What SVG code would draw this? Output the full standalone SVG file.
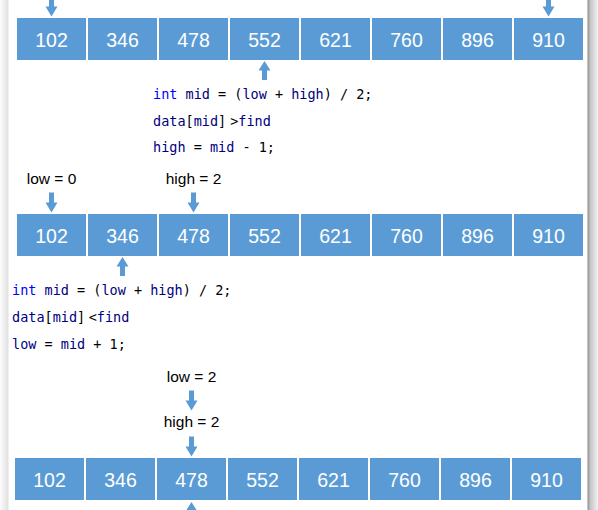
<svg xmlns="http://www.w3.org/2000/svg" width="598" height="510" viewBox="0 0 598 510">
<defs>
<style>
.box{fill:#5B9BD5}
.num{font-family:"Liberation Sans",Arial,sans-serif;font-size:19.5px;fill:#ffffff;text-anchor:middle}
.lbl{font-family:"Liberation Sans",Arial,sans-serif;font-size:15.5px;fill:#000000;text-anchor:middle}
.code{font-family:"DejaVu Sans Mono","Liberation Mono",monospace;font-size:13.5px;fill:#000000}
.kw{fill:#0000FF}
.id{fill:#000080}
.arr{fill:#5B9BD5}
</style>
<linearGradient id="lshade" x1="0" y1="0" x2="1" y2="0">
<stop offset="0" stop-color="#fcfcfc"/>
<stop offset="1" stop-color="#e0e0e0"/>
</linearGradient>
<linearGradient id="rshade" x1="0" y1="0" x2="1" y2="0">
<stop offset="0" stop-color="#8a8a8a"/>
<stop offset="0.25" stop-color="#c4c4c4"/>
<stop offset="1" stop-color="#f2f2f2"/>
</linearGradient>
<path id="down" d="M-2.5,-20 L2.5,-20 L2.5,-10 L6,-10 L0,0 L-6,-10 L-2.5,-10 Z"/>
<path id="up" d="M-2.5,19 L2.5,19 L2.5,9.5 L6,9.5 L0,0 L-6,9.5 L-2.5,9.5 Z"/>
</defs>
<rect x="0" y="0" width="598" height="510" fill="#ffffff"/>
<rect x="0" y="0" width="8.5" height="510" fill="url(#lshade)"/>
<rect x="587.5" y="0" width="10.5" height="510" fill="url(#rshade)"/>

<g id="row1">
<g id="r1-0"><rect class="box" x="17" y="18" width="69" height="42"/><text class="num" x="51.5" y="46.5">102</text></g>
<g id="r1-1"><rect class="box" x="88" y="18" width="69" height="42"/><text class="num" x="122.5" y="46.5">346</text></g>
<g id="r1-2"><rect class="box" x="159" y="18" width="69" height="42"/><text class="num" x="193.5" y="46.5">478</text></g>
<g id="r1-3"><rect class="box" x="230" y="18" width="69" height="42"/><text class="num" x="264.5" y="46.5">552</text></g>
<g id="r1-4"><rect class="box" x="301" y="18" width="69" height="42"/><text class="num" x="335.5" y="46.5">621</text></g>
<g id="r1-5"><rect class="box" x="372" y="18" width="69" height="42"/><text class="num" x="406.5" y="46.5">760</text></g>
<g id="r1-6"><rect class="box" x="443" y="18" width="69" height="42"/><text class="num" x="477.5" y="46.5">896</text></g>
<g id="r1-7"><rect class="box" x="514" y="18" width="69" height="42"/><text class="num" x="548.5" y="46.5">910</text></g>
</g>

<g id="code1" class="code">
<text x="153" y="99"><tspan class="kw">int</tspan> <tspan class="id">mid</tspan> = (<tspan class="id">low</tspan> + <tspan class="id">high</tspan>) / 2;</text>
<text x="153" y="125.7"><tspan class="id">data</tspan>[<tspan class="id">mid</tspan>]<tspan dx="4">&gt;</tspan><tspan class="id">find</tspan></text>
<text x="153" y="152.4"><tspan class="id">high</tspan> = <tspan class="id">mid</tspan> - 1;</text>
</g>

<g id="row2">
<g id="r2-0"><rect class="box" x="17" y="214" width="69" height="42"/><text class="num" x="51.5" y="242.5">102</text></g>
<g id="r2-1"><rect class="box" x="88" y="214" width="69" height="42"/><text class="num" x="122.5" y="242.5">346</text></g>
<g id="r2-2"><rect class="box" x="159" y="214" width="69" height="42"/><text class="num" x="193.5" y="242.5">478</text></g>
<g id="r2-3"><rect class="box" x="230" y="214" width="69" height="42"/><text class="num" x="264.5" y="242.5">552</text></g>
<g id="r2-4"><rect class="box" x="301" y="214" width="69" height="42"/><text class="num" x="335.5" y="242.5">621</text></g>
<g id="r2-5"><rect class="box" x="372" y="214" width="69" height="42"/><text class="num" x="406.5" y="242.5">760</text></g>
<g id="r2-6"><rect class="box" x="443" y="214" width="69" height="42"/><text class="num" x="477.5" y="242.5">896</text></g>
<g id="r2-7"><rect class="box" x="514" y="214" width="69" height="42"/><text class="num" x="548.5" y="242.5">910</text></g>
</g>

<g id="labels2">
<text class="lbl" x="51.5" y="184">low = 0</text>
<text class="lbl" x="193.5" y="184">high = 2</text>
</g>

<g id="code2" class="code">
<text x="12" y="294.5"><tspan class="kw">int</tspan> <tspan class="id">mid</tspan> = (<tspan class="id">low</tspan> + <tspan class="id">high</tspan>) / 2;</text>
<text x="12" y="321.5"><tspan class="id">data</tspan>[<tspan class="id">mid</tspan>]<tspan dx="3.5">&lt;</tspan><tspan class="id">find</tspan></text>
<text x="12" y="348.5"><tspan class="id">low</tspan> = <tspan class="id">mid</tspan> + 1;</text>
</g>

<g id="labels3">
<text class="lbl" x="191.5" y="382">low = 2</text>
<text class="lbl" x="191.5" y="426.5">high = 2</text>
</g>

<g id="row3">
<g id="r3-0"><rect class="box" x="15" y="458" width="69" height="42"/><text class="num" x="49.5" y="486.5">102</text></g>
<g id="r3-1"><rect class="box" x="86" y="458" width="69" height="42"/><text class="num" x="120.5" y="486.5">346</text></g>
<g id="r3-2"><rect class="box" x="157" y="458" width="69" height="42"/><text class="num" x="191.5" y="486.5">478</text></g>
<g id="r3-3"><rect class="box" x="228" y="458" width="69" height="42"/><text class="num" x="262.5" y="486.5">552</text></g>
<g id="r3-4"><rect class="box" x="299" y="458" width="69" height="42"/><text class="num" x="333.5" y="486.5">621</text></g>
<g id="r3-5"><rect class="box" x="370" y="458" width="69" height="42"/><text class="num" x="404.5" y="486.5">760</text></g>
<g id="r3-6"><rect class="box" x="441" y="458" width="69" height="42"/><text class="num" x="475.5" y="486.5">896</text></g>
<g id="r3-7"><rect class="box" x="512" y="458" width="69" height="42"/><text class="num" x="546.5" y="486.5">910</text></g>
</g>

<g id="connectors" class="arr">
<use href="#down" x="51.5" y="16.5"/>
<use href="#down" x="548.5" y="16.5"/>
<use href="#up" x="264.5" y="61"/>
<use href="#down" x="51.5" y="212.5"/>
<use href="#down" x="193.5" y="212.5"/>
<use href="#up" x="122.5" y="257"/>
<use href="#down" x="191.5" y="410.5"/>
<use href="#down" x="191.5" y="456.5"/>
<use href="#up" x="191.5" y="502"/>
</g>
</svg>
